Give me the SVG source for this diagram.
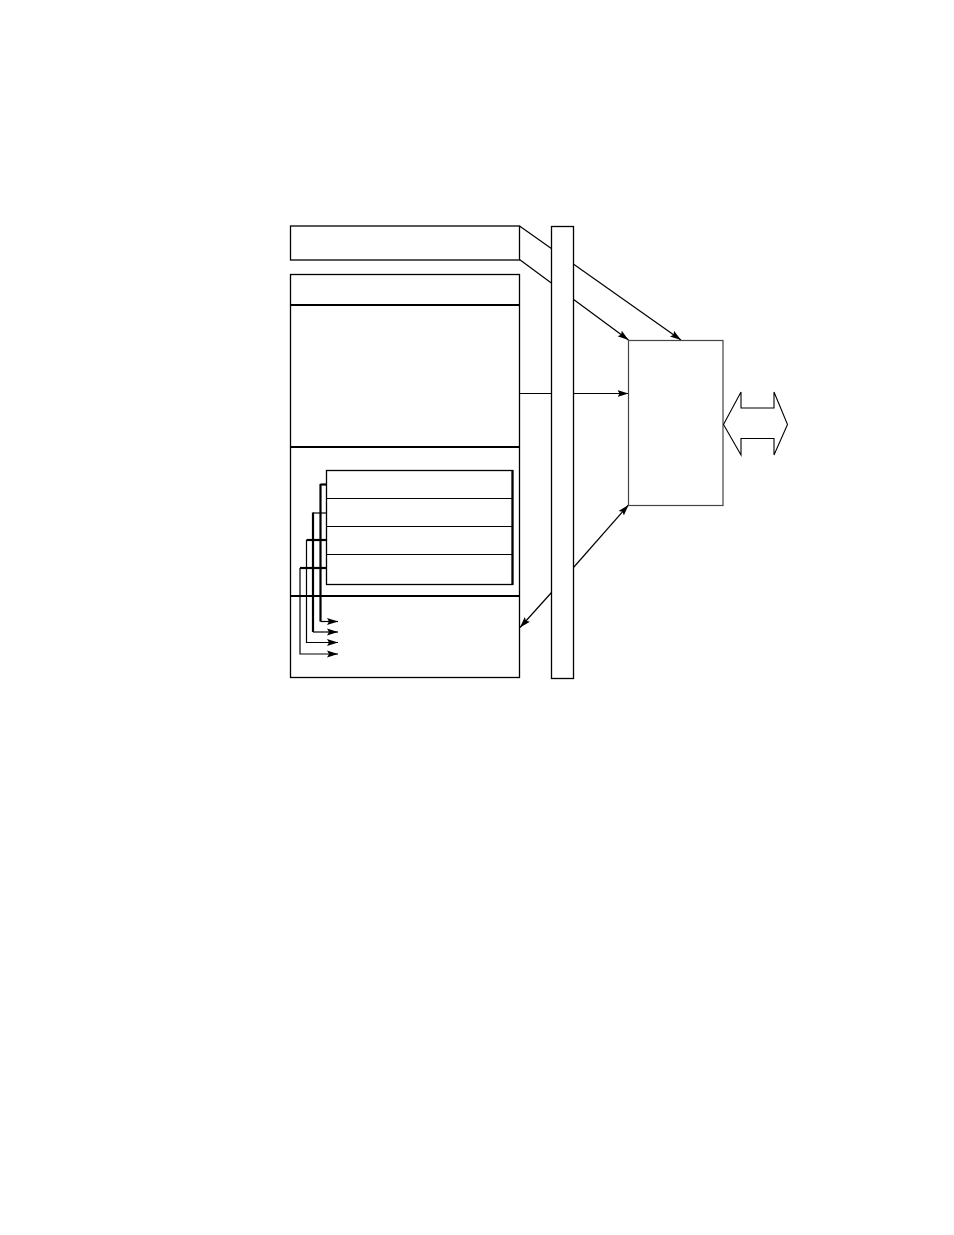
<svg xmlns="http://www.w3.org/2000/svg" width="954" height="1235" viewBox="0 0 954 1235">
<style>
.b{fill:#fff;stroke:#000;stroke-width:1.3}
.t{stroke:#000;stroke-width:2.2;fill:none}
.l{stroke:#000;stroke-width:1.2;fill:none}
</style>
<defs>
<marker id="ah" markerUnits="userSpaceOnUse" markerWidth="12" markerHeight="8" refX="11" refY="4" orient="auto">
<path d="M0,0.5 L11,4 L0,7.5 L2,4 z" fill="#000"/>
</marker>
</defs>
<rect width="954" height="1235" fill="#fff"/>
<g id="connectors">
<line class="l" x1="519.5" y1="226" x2="681" y2="340" marker-end="url(#ah)"/>
<line class="l" x1="519.5" y1="259.5" x2="628.5" y2="340" marker-end="url(#ah)"/>
<line class="l" x1="519.5" y1="393.5" x2="628.5" y2="393.5" marker-end="url(#ah)"/>
<line class="l" x1="573.5" y1="567.5" x2="628.5" y2="505" marker-end="url(#ah)"/>
<line class="l" x1="551.5" y1="592.5" x2="520" y2="627.5" marker-end="url(#ah)"/>
</g>
<g id="top-box"><rect class="b" x="290.5" y="226" width="229" height="34"/></g>
<g id="main-panel">
<rect class="b" x="290.5" y="274.5" width="229" height="403"/>
<line class="t" x1="290.5" y1="305" x2="519.5" y2="305"/>
<line class="t" x1="290.5" y1="447" x2="519.5" y2="447"/>
<line class="t" x1="290.5" y1="596" x2="519.5" y2="596"/>
</g>
<g id="inner-stack">
<rect class="b" x="326.5" y="470.5" width="186" height="114"/>
<line class="t" x1="512.5" y1="470" x2="512.5" y2="585"/>
<line class="l" x1="326.5" y1="498.5" x2="512.5" y2="498.5"/>
<line class="l" x1="326.5" y1="526.5" x2="512.5" y2="526.5"/>
<line class="l" x1="326.5" y1="554.5" x2="512.5" y2="554.5"/>
</g>
<g id="taps">
<path class="t" d="M320.5,484.5 H327"/>
<path class="t" d="M320.5,484 V621.5"/>
<path class="l" d="M320.5,621.5 H338" marker-end="url(#ah)"/>
<path class="l" d="M313,513 H327"/>
<path class="t" d="M313,512.5 V632"/>
<path class="l" d="M313,632 H338" marker-end="url(#ah)"/>
<path class="t" d="M306.5,540 H327"/>
<path class="l" d="M306.5,540 V642.5 H338" marker-end="url(#ah)"/>
<path class="t" d="M300,568 H327"/>
<path class="l" d="M300,568 V654 H338" marker-end="url(#ah)"/>
</g>
<g id="bus"><rect class="b" x="551.5" y="226.5" width="22" height="452"/></g>
<g id="block"><rect x="628.5" y="340.5" width="94.5" height="165" fill="#fff" stroke="#444" stroke-width="1.2"/></g>
<g id="double-arrow"><polygon points="723.5,424.5 741,392 741,408 774,408 774,392 787.5,424.5 774,455 774,438.5 741,438.5 741,455" fill="#fff" stroke="#000" stroke-width="1.1"/></g>
</svg>
